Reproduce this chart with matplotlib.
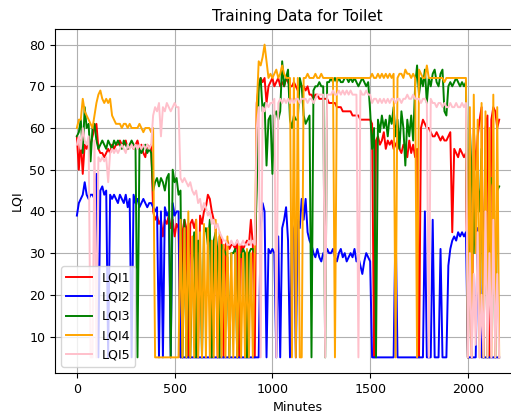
import numpy as np
import matplotlib
matplotlib.use("Agg")
import matplotlib.pyplot as plt

# LQI readings, one sample every 10 minutes (0 .. 2160)
lqi1 = [
    58, 50, 57, 49, 56, 55, 57, 56, 58, 60,
    61, 55, 54, 54, 53, 54, 55, 54, 56, 55,
    56, 56, 57, 56, 56, 57, 55, 56, 56, 55,
    56, 57, 55, 56, 54, 53, 56, 55, 56, 40,
    38, 39, 37, 38, 34, 38, 37, 39, 36, 38,
    34, 37, 36, 5, 35, 38, 36, 5, 37, 38,
    36, 38, 5, 39, 37, 40, 41, 44, 43, 40,
    38, 36, 5, 34, 33, 5, 32, 33, 31, 32,
    32, 31, 33, 5, 32, 31, 32, 33, 32, 38,
    32, 5, 66, 70, 72, 71, 72, 66, 70, 71,
    72, 70, 71, 72, 70, 71, 70, 72, 71, 70,
    70, 71, 70, 69, 70, 70, 70, 69, 70, 68,
    68, 67, 68, 68, 67, 67, 67, 67, 67, 66,
    66, 66, 66, 65, 65, 65, 64, 64, 64, 64,
    64, 63, 63, 63, 63, 62, 62, 62, 62, 62,
    62, 61, 5, 57, 58, 56, 57, 59, 55, 57,
    56, 57, 55, 56, 57, 55, 54, 56, 55, 53,
    57, 54, 56, 53, 55, 5, 60, 62, 61, 60,
    60, 59, 58, 58, 59, 58, 57, 58, 57, 57,
    58, 59, 35, 55, 54, 53, 55, 54, 53, 54,
    5, 55, 5, 60, 50, 58, 62, 65, 5, 60,
    63, 5, 62, 65, 64, 60, 62,
]
lqi2 = [
    39, 42, 43, 44, 47, 44, 43, 44, 44, 43,
    49, 5, 45, 46, 44, 45, 5, 44, 43, 44,
    43, 42, 44, 43, 42, 44, 41, 43, 5, 44,
    42, 43, 41, 42, 43, 42, 41, 42, 42, 41,
    40, 41, 5, 40, 5, 41, 39, 40, 5, 42,
    39, 40, 40, 5, 5, 5, 5, 5, 5, 5,
    5, 5, 5, 5, 5, 5, 5, 5, 5, 5,
    5, 5, 5, 5, 5, 5, 5, 5, 5, 5,
    5, 5, 5, 5, 5, 5, 5, 5, 5, 5,
    5, 5, 5, 5, 36, 42, 40, 5, 31, 30,
    31, 30, 5, 34, 5, 36, 38, 41, 33, 5,
    37, 35, 5, 38, 36, 43, 38, 43, 35, 33,
    32, 30, 29, 31, 29, 28, 30, 29, 31, 30,
    30, 31, 29, 28, 30, 31, 29, 30, 28, 29,
    30, 29, 31, 28, 29, 27, 25, 28, 30, 29,
    28, 5, 5, 5, 5, 5, 5, 5, 5, 5,
    5, 5, 5, 38, 5, 5, 5, 5, 5, 5,
    5, 5, 5, 5, 5, 5, 5, 5, 40, 5,
    5, 5, 38, 5, 5, 5, 31, 5, 5, 5,
    27, 31, 33, 34, 33, 35, 34, 35, 34, 35,
    5, 5, 5, 5, 5, 36, 33, 5, 5, 5,
    5, 5, 5, 5, 5, 5, 5,
]
lqi3 = [
    58, 59, 62, 54, 65, 60, 61, 52, 60, 61,
    57, 55, 56, 57, 56, 55, 57, 56, 55, 57,
    56, 57, 56, 55, 57, 56, 55, 56, 57, 56,
    55, 5, 55, 54, 55, 56, 54, 55, 54, 45,
    47, 48, 46, 48, 47, 45, 48, 49, 5, 50,
    47, 48, 44, 45, 5, 38, 5, 32, 5, 28,
    35, 5, 33, 30, 5, 35, 36, 32, 38, 5,
    33, 35, 30, 5, 32, 31, 30, 29, 5, 30,
    30, 31, 5, 30, 29, 31, 30, 5, 30, 31,
    31, 30, 45, 70, 72, 64, 66, 51, 62, 63,
    49, 63, 64, 62, 64, 76, 70, 72, 74, 62,
    60, 63, 62, 62, 72, 70, 63, 61, 62, 63,
    5, 69, 70, 70, 71, 70, 70, 5, 71, 71,
    72, 71, 72, 71, 72, 71, 71, 72, 72, 71,
    72, 71, 72, 71, 70, 71, 72, 71, 70, 71,
    64, 55, 60, 5, 62, 59, 63, 60, 62, 58,
    63, 61, 65, 58, 62, 55, 64, 60, 51, 62,
    58, 63, 57, 70, 75, 68, 72, 70, 74, 66,
    72, 70, 73, 74, 71, 70, 73, 74, 64, 63,
    70, 71, 70, 71, 72, 71, 70, 71, 70, 71,
    5, 60, 48, 30, 46, 47, 40, 55, 5, 50,
    5, 45, 48, 46, 5, 45, 46,
]
lqi4 = [
    60, 62, 62, 67, 64, 63, 62, 61, 60, 63,
    66, 68, 69, 67, 66, 67, 66, 67, 63, 62,
    61, 61, 61, 60, 61, 61, 60, 61, 60, 60,
    60, 60, 61, 60, 59, 60, 60, 60, 59, 60,
    5, 5, 5, 5, 5, 5, 5, 5, 5, 5,
    5, 5, 5, 38, 5, 36, 5, 40, 5, 34,
    5, 38, 5, 35, 5, 37, 5, 36, 5, 33,
    5, 38, 5, 35, 5, 32, 5, 34, 5, 30,
    5, 30, 5, 32, 5, 30, 5, 31, 5, 30,
    5, 31, 65, 76, 75, 77, 80, 76, 72, 73,
    72, 73, 74, 72, 73, 75, 73, 72, 72, 72,
    5, 72, 5, 72, 5, 5, 72, 72, 73, 72,
    72, 72, 73, 72, 72, 73, 72, 72, 72, 72,
    72, 72, 5, 72, 72, 72, 72, 72, 72, 72,
    72, 72, 72, 72, 72, 72, 72, 72, 72, 72,
    72, 73, 72, 72, 73, 72, 73, 72, 73, 72,
    73, 72, 73, 5, 72, 73, 73, 72, 74, 73,
    73, 72, 73, 72, 5, 74, 73, 72, 72, 75,
    72, 72, 72, 72, 72, 72, 72, 72, 71, 72,
    72, 72, 72, 72, 72, 72, 72, 72, 72, 72,
    5, 65, 5, 68, 30, 62, 5, 66, 5, 64,
    5, 60, 5, 68, 5, 65, 5,
]
lqi5 = [
    56, 58, 55, 60, 57, 56, 58, 5, 5, 57,
    5, 53, 52, 53, 52, 53, 47, 54, 55, 54,
    55, 54, 55, 56, 55, 54, 56, 55, 56, 55,
    56, 55, 56, 55, 56, 55, 56, 55, 56, 63,
    65, 64, 66, 58, 65, 64, 66, 65, 64, 65,
    66, 65, 65, 48, 47, 48, 47, 46, 47, 45,
    44, 45, 42, 43, 40, 42, 41, 39, 40, 37,
    38, 36, 37, 35, 34, 33, 33, 32, 32, 33,
    32, 32, 33, 32, 32, 33, 32, 32, 33, 32,
    33, 32, 60, 65, 5, 65, 64, 66, 65, 66,
    66, 67, 5, 66, 67, 66, 67, 66, 67, 66,
    67, 66, 67, 67, 66, 67, 67, 67, 66, 67,
    67, 66, 67, 68, 68, 68, 68, 5, 68, 68,
    68, 69, 68, 68, 69, 68, 69, 68, 69, 68,
    69, 68, 68, 68, 5, 69, 68, 68, 69, 68,
    68, 66, 67, 67, 66, 67, 66, 67, 66, 67,
    66, 67, 67, 66, 67, 67, 66, 67, 67, 68,
    67, 67, 68, 67, 67, 67, 66, 67, 67, 66,
    5, 67, 66, 66, 65, 66, 66, 65, 66, 65,
    65, 66, 65, 65, 66, 65, 65, 66, 65, 66,
    5, 30, 5, 25, 8, 35, 5, 20, 5, 40,
    5, 30, 5, 38, 5, 25, 5,
]

minutes = np.arange(len(lqi1)) * 10

series = {
    'LQI1': (lqi1, 'red'),
    'LQI2': (lqi2, 'blue'),
    'LQI3': (lqi3, 'green'),
    'LQI4': (lqi4, 'orange'),
    'LQI5': (lqi5, 'pink'),
}

fig = plt.figure(figsize=(5.11, 4.15), dpi=100)
# axes run past the right edge of the canvas
ax = fig.add_axes([0.1076, 0.1012, 0.95, 0.829])

for name, (vals, col) in series.items():
    ax.plot(minutes, vals, color=col, label=name, linewidth=1.4)

ax.set_xlim(-112, 2371)
ax.set_title('Training Data for Toilet', fontsize=10.9)
ax.set_xlabel('Minutes', fontsize=9.1)
ax.set_ylabel('LQI', fontsize=9.1)
ax.tick_params(labelsize=9.1)
ax.legend(loc='lower left', fontsize=9.1)
ax.grid(True)

fig.savefig('out.png', dpi=100)
